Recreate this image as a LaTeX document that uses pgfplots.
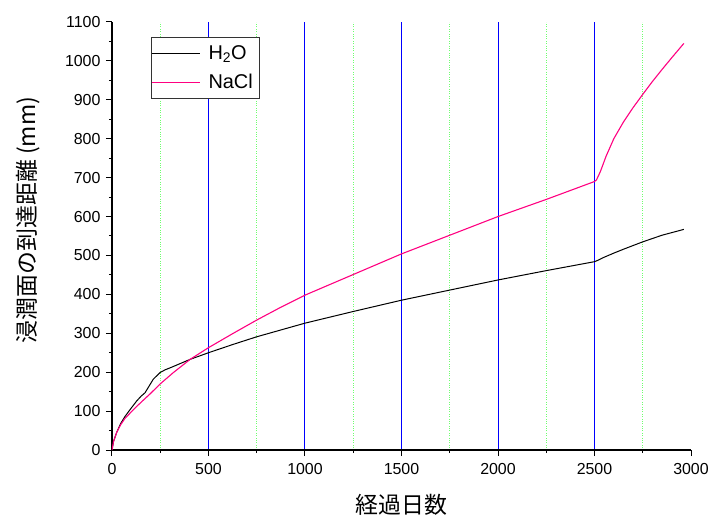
\documentclass[border=0pt]{standalone}
\usepackage{fontspec}
\setmainfont{Liberation Sans}
\newfontfamily\cjk{Noto Sans CJK JP}
\usepackage{pgfplots}
\pgfplotsset{compat=1.18}
\usepackage{pgfplotstable}
\definecolor{nacl}{RGB}{255,0,128}
\definecolor{gridg}{RGB}{110,255,110}
\pgfplotstableread{
x y
0 0
8 22
24 45
45 68
67 86
100 108
128 126
150 138
171 147
214 182
249 199
275 206
310 213
405 233
500 250
625 271
750 291
1000 326
1250 356
1500 385
1750 411
2000 437
2250 461
2500 484
2520 488
2548 495
2600 506
2650 516
2750 535
2850 552
2963 567
}\water
\pgfplotstableread{
x y
0 0
8 22
24 45
45 65
67 81
100 98
128 112
160 127
197 144
250 170
318 199
405 233
500 263
625 299
750 334
875 367
1000 398
1250 451
1500 504
1750 552
2000 600
2250 644
2500 690
2510 694
2530 715
2560 755
2600 800
2650 843
2700 880
2750 914
2800 947
2850 978
2900 1008
2963 1045
}\nacl
\begin{document}
\begin{tikzpicture}
\begin{axis}[
  at={(0,0)}, anchor=south west,
  scale only axis, width=579bp, height=428bp,
  xmin=0, xmax=3000, ymin=0, ymax=1100,
  axis x line*=bottom, axis y line*=left,
  axis line style={-, line width=1.2bp, black},
  tick align=outside,
  major tick length=6bp, minor tick length=3bp,
  tick style={line width=1bp, black},
  xtick={500,1000,...,2500},
  extra x ticks={0,3000},
  extra x tick style={grid=none},
  minor xtick={250,750,...,2750},
  ytick={0,100,...,1100},
  minor ytick={50,150,...,1050},
  xmajorgrids, xminorgrids,
  major grid style={blue, line width=1bp},
  minor grid style={gridg, dotted, line width=0.9bp},
  /pgf/number format/assume math mode=true,
  /pgf/number format/1000 sep={},
  ticklabel style={font=\fontsize{16}{18}\selectfont},
  xticklabel style={yshift=-4bp},
  yticklabel style={xshift=-2bp},
  xlabel={\cjk 経過日数},
  ylabel={\cjk 浸潤面の到達距離\hspace{5bp}(mm)},
  label style={font=\fontsize{23}{26}\selectfont},
  xlabel style={yshift=-1bp},
  ylabel style={yshift=18bp, xshift=16bp},
  legend style={at={(0.0674,0.965)}, anchor=north west,
    font=\fontsize{20}{24}\selectfont, draw=black!80, line width=1bp,
    inner xsep=0pt, inner ysep=6.5bp, row sep=9bp,
    nodes={inner xsep=0pt}},
  legend cell align=left,
  legend image code/.code={\draw[#1, line width=1bp] (0bp,0bp) -- (48bp,0bp);},
]
\addplot[black, line width=1bp] table[x=x,y=y] {\water};
\addlegendentry{\hspace{8bp}H\textsubscript{2}O}
\addplot[nacl, line width=1.1bp] table[x=x,y=y] {\nacl};
\addlegendentry{\hspace{8bp}NaCl\rule{7bp}{0pt}}
\end{axis}
\pgfresetboundingbox
\path (-112bp,-68bp) rectangle (598bp,450bp);
\end{tikzpicture}
\end{document}
